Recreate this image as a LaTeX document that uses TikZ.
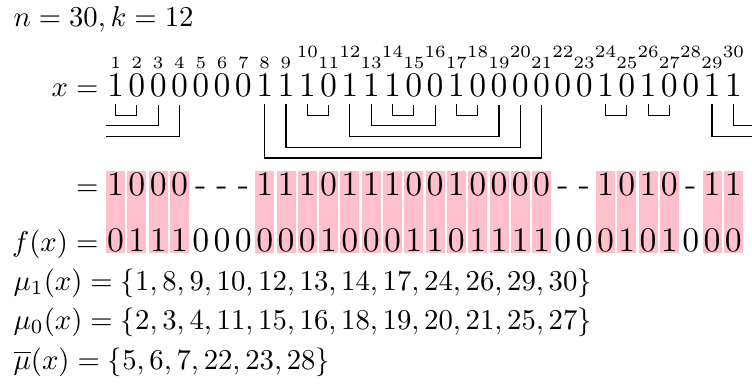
\documentclass[tikz,border=0pt]{standalone}
\usepackage{amsmath}
\usepackage{amssymb}
\usepackage{xcolor}
\definecolor{cellpink}{RGB}{255,192,203}

\begin{document}
\begin{tikzpicture}[x=0.348pt, y=-0.348pt,
        bit/.style={inner sep=0pt, anchor=base, font=\large},
        idx/.style={inner sep=0pt, anchor=base, font=\fontsize{6}{7}\selectfont},
        lbl/.style={inner sep=0pt, anchor=base east},
        line/.style={inner sep=0pt, anchor=base west}]
            \useasboundingbox (0,0) rectangle (752,385);
            % pink columns behind the kept bits
            \foreach \i in {1,2,3,4,8,9,10,11,12,13,14,15,16,17,18,19,20,21,24,25,26,27,29,30}
                \fill[cellpink] ({115.6+21.3*(\i-1)-9.5},171) rectangle ++(19,81.5);
            \node[line] (title) at (13,27) {$n = 30, k = 12$};
            % positions
            \foreach \i in {1,...,9,11,13,...,29}
                \node[idx] (n\i) at ({115.6+21.3*(\i-1)},69) {\i};
            \foreach \i in {10,12,...,30}
                \node[idx] (n\i) at ({115.6+21.3*(\i-1)},58) {\i};
            % the word x
            \node[lbl] (xl) at (99,97) {$x =$};
            \foreach \b [count=\i] in {1,0,0,0,0,0,0,1,1,1,0,1,1,1,0,0,1,0,0,0,0,0,0,1,0,1,0,0,1,1}
                \node[bit] (x\i) at ({115.6+21.3*(\i-1)},97) {\b};
            % matched pairs
            \foreach \a/\b/\d in {1/2/1,10/11/1,14/15/1,17/18/1,24/25/1,26/27/1,13/16/2,12/19/3,9/20/4,8/21/5}
                \draw ([yshift=-2.4pt]x\a.south) -- ++(0,10.7*\d) -| ([yshift=-2.4pt]x\b.south);
            \coordinate (wl2) at (106,125.4);
            \coordinate (wl3) at (106,136.1);
            \coordinate (wr2) at (752,125.4);
            \coordinate (wr3) at (752,136.1);
            \draw ([yshift=-2.4pt]x3.south) |- (wl2);
            \draw ([yshift=-2.4pt]x4.south) |- (wl3);
            \draw ([yshift=-2.4pt]x30.south) |- (wr2);
            \draw ([yshift=-2.4pt]x29.south) |- (wr3);
            % kept bits
            \node[lbl] (rl) at (99,195) {$=$};
            \foreach \b [count=\i] in {1,0,0,0,-,-,-,1,1,1,0,1,1,1,0,0,1,0,0,0,0,-,-,1,0,1,0,-,1,1}
                \node[bit] (r\i) at ({115.6+21.3*(\i-1)},195) {\b};
            \node[lbl] (fl) at (99,251) {$f(x) =$};
            \foreach \b [count=\i] in {0,1,1,1,0,0,0,0,0,0,1,0,0,0,1,1,0,1,1,1,1,0,0,0,1,0,1,0,0,0}
                \node[bit] (f\i) at ({115.6+21.3*(\i-1)},251) {\b};
            % the three sets
            \node[line] (mu1) at (13,290) {$\mu_1(x) = \{1, 8, 9, 10, 12, 13, 14, 17, 24, 26, 29, 30\}$};
            \node[line] (mu0) at (13,329) {$\mu_0(x) = \{2, 3, 4, 11, 15, 16, 18, 19, 20, 21, 25, 27\}$};
            \node[line] (mub) at (13,369) {$\overline{\mu}(x) = \{5, 6, 7, 22, 23, 28\}$};
\end{tikzpicture}
\end{document}
